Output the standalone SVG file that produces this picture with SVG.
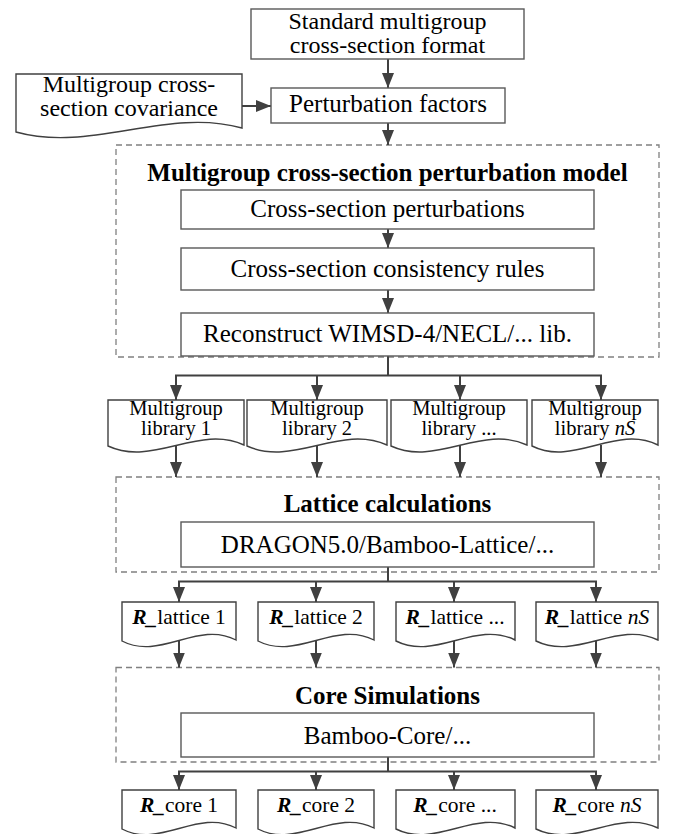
<svg xmlns="http://www.w3.org/2000/svg" width="678" height="834" viewBox="0 0 678 834">
<defs>
<style>
.box{fill:#fff;stroke:#595959;stroke-width:1.4}
.doc{fill:#fff;stroke:#404040;stroke-width:1.4}
.grp{fill:none;stroke:#808080;stroke-width:1.3;stroke-dasharray:6 4}
.ln{fill:none;stroke:#404040;stroke-width:2}
.arr{fill:none;stroke:#404040;stroke-width:2;marker-end:url(#ah)}
text{font-family:"Liberation Serif","Times New Roman",serif;fill:#000;text-anchor:middle}
.t25{font-size:25px}
.t24{font-size:24px}
.t22{font-size:21.5px}
.t21{font-size:20.5px}
.ttl{font-size:25px;font-weight:bold}
.bi{font-weight:bold;font-style:italic}
.it{font-style:italic}
</style>
<marker id="ah" viewBox="0 0 15 12" refX="15" refY="6" markerWidth="15" markerHeight="12" orient="auto" markerUnits="userSpaceOnUse">
<path d="M0,0 L15,6 L0,12 z" fill="#404040"/>
</marker>
</defs>
<rect width="678" height="834" fill="#fff"/>

<g id="groups">
<rect id="grp-perturbation" class="grp" x="116" y="145" width="543" height="212"/>
<rect id="grp-lattice" class="grp" x="116" y="477" width="543" height="95"/>
<rect id="grp-core" class="grp" x="116" y="667.5" width="543" height="94.5"/>
</g>

<g id="connectors">
<path class="arr" d="M388,59 V88"/>
<path class="arr" d="M242,106 H271"/>
<path class="arr" d="M388,123 V145"/>
<path class="arr" d="M388,229 V248"/>
<path class="arr" d="M388,290 V313"/>
<path class="ln" d="M388,356 V375.5 M175,375.5 H602"/>
<path class="arr" d="M176,375.5 V400"/>
<path class="arr" d="M317,375.5 V400"/>
<path class="arr" d="M460,375.5 V400"/>
<path class="arr" d="M601,375.5 V400"/>
<path class="arr" d="M176,445 V477"/>
<path class="arr" d="M317,445 V477"/>
<path class="arr" d="M460,445 V477"/>
<path class="arr" d="M601,445 V477"/>
<path class="ln" d="M388,567 V581.5 M178,581.5 H597"/>
<path class="arr" d="M179,581.5 V602"/>
<path class="arr" d="M316,581.5 V602"/>
<path class="arr" d="M454,581.5 V602"/>
<path class="arr" d="M596,581.5 V602"/>
<path class="arr" d="M179,638 V667.5"/>
<path class="arr" d="M316,638 V667.5"/>
<path class="arr" d="M454,638 V667.5"/>
<path class="arr" d="M596,638 V667.5"/>
<path class="ln" d="M388,757 V771.5 M178,771.5 H597"/>
<path class="arr" d="M179,771.5 V790"/>
<path class="arr" d="M316,771.5 V790"/>
<path class="arr" d="M454,771.5 V790"/>
<path class="arr" d="M596,771.5 V790"/>
</g>

<g id="n-standard">
<rect class="box" x="251" y="9" width="273" height="50"/>
<text class="t24" x="387.5" y="29">Standard multigroup</text>
<text class="t24" x="387.5" y="53">cross-section format</text>
</g>
<g id="n-covariance">
<path class="doc" d="M16,74 H242 V128 C166.7,107 91.3,153 16,132 Z"/>
<text class="t24" x="129" y="92">Multigroup cross-</text>
<text class="t24" x="129" y="116">section covariance</text>
</g>
<g id="n-factors">
<rect class="box" x="271" y="88" width="234" height="35"/>
<text class="t25" x="388" y="111.5">Perturbation factors</text>
</g>
<g id="n-title1">
<text class="ttl" x="387.5" y="181">Multigroup cross-section perturbation model</text>
</g>
<g id="n-xsp">
<rect class="box" x="181" y="190" width="413" height="39"/>
<text class="t25" x="387.5" y="217">Cross-section perturbations</text>
</g>
<g id="n-rules">
<rect class="box" x="181" y="248" width="413" height="42"/>
<text class="t25" x="387.5" y="276.5">Cross-section consistency rules</text>
</g>
<g id="n-reconstruct">
<rect class="box" x="181" y="313" width="413" height="43"/>
<text class="t25" x="387.5" y="341.5">Reconstruct WIMSD-4/NECL/... lib.</text>
</g>

<g id="n-lib1">
<path class="doc" d="M108,400 H244 V445 C198.7,424 153.3,467 108,446 Z"/>
<text class="t21" x="176" y="414.5">Multigroup</text>
<text class="t21" x="176" y="434.5">library 1</text>
</g>
<g id="n-lib2">
<path class="doc" d="M247,400 H387 V445 C340.3,424 293.7,467 247,446 Z"/>
<text class="t21" x="317" y="414.5">Multigroup</text>
<text class="t21" x="317" y="434.5">library 2</text>
</g>
<g id="n-lib3">
<path class="doc" d="M391,400 H527 V445 C481.7,424 436.3,467 391,446 Z"/>
<text class="t21" x="459" y="414.5">Multigroup</text>
<text class="t21" x="459" y="434.5">library ...</text>
</g>
<g id="n-lib4">
<path class="doc" d="M532,400 H658 V445 C616,424 574,467 532,446 Z"/>
<text class="t21" x="595" y="414.5">Multigroup</text>
<text class="t21" x="595" y="434.5">library <tspan class="it">nS</tspan></text>
</g>

<g id="n-title2">
<text class="ttl" x="387.5" y="512">Lattice calculations</text>
</g>
<g id="n-dragon">
<rect class="box" x="181" y="522" width="413" height="45"/>
<text class="t25" x="387.5" y="553">DRAGON5.0/Bamboo-Lattice/...</text>
</g>

<g id="n-rl1">
<path class="doc" d="M122,602 H236 V640 C198,620 160,661 122,641 Z"/>
<text class="t22" x="179" y="623.5"><tspan class="bi">R_</tspan>lattice 1</text>
</g>
<g id="n-rl2">
<path class="doc" d="M258,602 H374 V640 C335.3,620 296.7,661 258,641 Z"/>
<text class="t22" x="316" y="623.5"><tspan class="bi">R_</tspan>lattice 2</text>
</g>
<g id="n-rl3">
<path class="doc" d="M396,602 H515 V640 C475.3,620 435.7,661 396,641 Z"/>
<text class="t22" x="455" y="623.5"><tspan class="bi">R_</tspan>lattice ...</text>
</g>
<g id="n-rl4">
<path class="doc" d="M536,602 H658 V640 C617.3,620 576.7,661 536,641 Z"/>
<text class="t22" x="597" y="623.5"><tspan class="bi">R_</tspan>lattice <tspan class="it">nS</tspan></text>
</g>

<g id="n-title3">
<text class="ttl" x="387.5" y="704">Core Simulations</text>
</g>
<g id="n-bamboo">
<rect class="box" x="181" y="713" width="413" height="44"/>
<text class="t25" x="387.5" y="743.5">Bamboo-Core/...</text>
</g>

<g id="n-rc1">
<path class="doc" d="M122,790 H236 V828 C198,808 160,849 122,829 Z"/>
<text class="t22" x="179" y="812"><tspan class="bi">R_</tspan>core 1</text>
</g>
<g id="n-rc2">
<path class="doc" d="M258,790 H374 V828 C335.3,808 296.7,849 258,829 Z"/>
<text class="t22" x="316" y="812"><tspan class="bi">R_</tspan>core 2</text>
</g>
<g id="n-rc3">
<path class="doc" d="M396,790 H515 V828 C475.3,808 435.7,849 396,829 Z"/>
<text class="t22" x="455" y="812"><tspan class="bi">R_</tspan>core ...</text>
</g>
<g id="n-rc4">
<path class="doc" d="M536,790 H658 V828 C617.3,808 576.7,849 536,829 Z"/>
<text class="t22" x="597" y="812"><tspan class="bi">R_</tspan>core <tspan class="it">nS</tspan></text>
</g>
</svg>
